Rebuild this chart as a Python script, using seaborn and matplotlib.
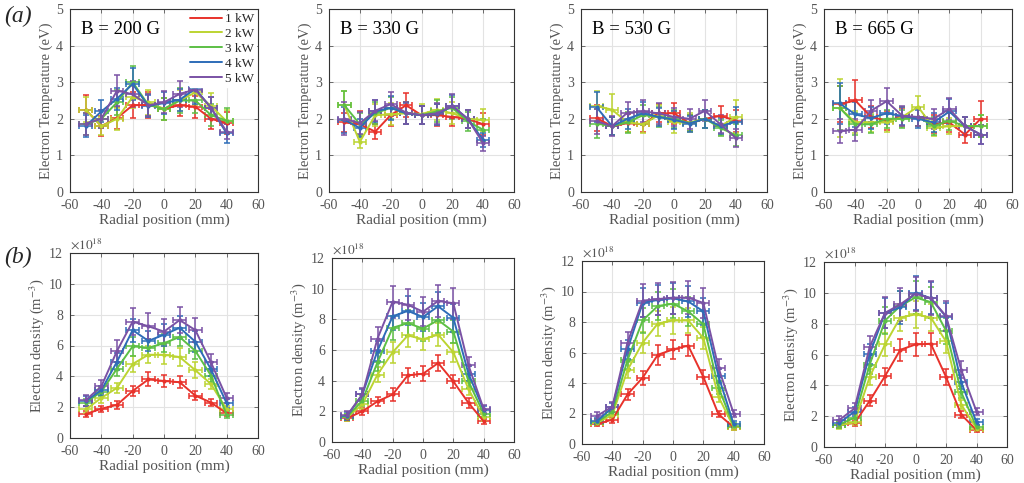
import numpy as np
import pandas as pd
import seaborn as sns
import matplotlib
matplotlib.use("Agg")
import matplotlib.pyplot as plt

# Messpositionen und Leistungen
radial_pos = [-50, -40, -30, -20, -10, 0, 10, 20, 30, 40]
powers = ["1 kW", "2 kW", "3 kW", "4 kW", "5 kW"]
farben = ["#e8322b", "#bcd431", "#5cbf45", "#2e6db8", "#7a52a5"]
b_felder = ["B = 200 G", "B = 330 G", "B = 530 G", "B = 665 G"]
x_err = 4  # mm

# Elektronentemperatur (eV), je Leistung eine Zeile
te_200 = [[2.25, 1.80, 2.02, 2.37, 2.38, 2.28, 2.37, 2.33, 2.00, 1.88],
          [2.25, 1.80, 2.00, 2.60, 2.45, 2.27, 2.50, 2.72, 2.35, 1.93],
          [1.85, 2.00, 2.45, 3.00, 2.38, 2.27, 2.50, 2.50, 2.10, 1.95],
          [1.80, 2.20, 2.55, 2.95, 2.35, 2.43, 2.52, 2.82, 2.30, 1.60],
          [1.87, 2.00, 2.77, 2.67, 2.37, 2.45, 2.68, 2.80, 2.30, 1.65]]
te_330 = [[1.90, 1.85, 1.65, 2.10, 2.37, 2.10, 2.10, 2.05, 2.00, 1.85],
          [2.37, 1.37, 2.10, 2.12, 2.15, 2.13, 2.25, 2.15, 2.00, 1.97],
          [2.37, 1.85, 2.15, 2.30, 2.15, 2.10, 2.20, 2.30, 1.93, 1.70],
          [1.97, 1.75, 2.20, 2.30, 2.15, 2.10, 2.12, 2.35, 2.00, 1.42],
          [2.00, 1.88, 2.22, 2.40, 2.17, 2.10, 2.15, 2.35, 2.00, 1.33]]
te_530 = [[2.02, 1.80, 1.88, 1.85, 2.15, 2.15, 1.88, 2.00, 2.08, 1.95],
          [2.35, 2.25, 1.90, 1.85, 2.10, 1.90, 1.90, 2.00, 1.80, 2.05],
          [1.87, 1.80, 1.90, 2.10, 2.05, 2.00, 1.88, 2.00, 1.75, 1.55],
          [2.32, 1.80, 2.00, 2.15, 2.05, 1.97, 1.87, 2.00, 1.80, 1.92],
          [1.93, 1.80, 2.17, 2.20, 2.15, 2.05, 2.00, 2.22, 1.85, 1.47]]
te_665 = [[2.40, 2.50, 2.05, 1.95, 2.05, 2.05, 1.85, 1.90, 1.57, 2.00],
          [2.30, 1.90, 1.90, 1.90, 2.05, 2.33, 1.75, 1.80, 1.80, 1.80],
          [2.30, 1.85, 1.85, 2.00, 2.00, 2.05, 1.80, 1.95, 1.80, 1.80],
          [2.42, 2.12, 2.02, 2.15, 2.08, 2.00, 1.90, 2.20, 1.80, 1.57],
          [1.67, 1.70, 2.22, 2.48, 2.08, 2.05, 2.00, 2.27, 1.80, 1.57]]

te_err_200 = [[0.40, 0.28, 0.30, 0.35, 0.35, 0.30, 0.30, 0.30, 0.28, 0.30],
              [0.35, 0.25, 0.30, 0.30, 0.35, 0.30, 0.30, 0.35, 0.35, 0.30],
              [0.30, 0.25, 0.35, 0.45, 0.30, 0.30, 0.35, 0.35, 0.30, 0.35],
              [0.30, 0.30, 0.30, 0.45, 0.30, 0.30, 0.30, 0.42, 0.30, 0.25],
              [0.30, 0.25, 0.42, 0.35, 0.30, 0.30, 0.35, 0.35, 0.30, 0.20]]
te_err_330 = [[0.25, 0.35, 0.20, 0.30, 0.33, 0.25, 0.30, 0.25, 0.25, 0.30],
              [0.40, 0.18, 0.30, 0.30, 0.30, 0.28, 0.28, 0.30, 0.25, 0.30],
              [0.40, 0.30, 0.30, 0.30, 0.30, 0.25, 0.30, 0.30, 0.25, 0.30],
              [0.35, 0.25, 0.30, 0.32, 0.28, 0.25, 0.28, 0.30, 0.25, 0.20],
              [0.45, 0.30, 0.28, 0.32, 0.30, 0.25, 0.28, 0.32, 0.25, 0.20]]
te_err_530 = [[0.35, 0.25, 0.25, 0.22, 0.25, 0.28, 0.22, 0.25, 0.28, 0.30],
              [0.40, 0.42, 0.25, 0.25, 0.28, 0.28, 0.25, 0.25, 0.25, 0.45],
              [0.40, 0.25, 0.28, 0.28, 0.28, 0.25, 0.22, 0.25, 0.22, 0.30],
              [0.42, 0.25, 0.28, 0.30, 0.25, 0.25, 0.22, 0.25, 0.22, 0.40],
              [0.35, 0.28, 0.28, 0.30, 0.28, 0.25, 0.28, 0.28, 0.25, 0.25]]
te_err_665 = [[0.50, 0.55, 0.30, 0.25, 0.25, 0.25, 0.25, 0.25, 0.22, 0.48],
              [0.80, 0.30, 0.25, 0.25, 0.28, 0.30, 0.22, 0.22, 0.25, 0.30],
              [0.60, 0.30, 0.25, 0.25, 0.25, 0.25, 0.25, 0.25, 0.25, 0.30],
              [0.55, 0.35, 0.30, 0.30, 0.25, 0.25, 0.25, 0.35, 0.25, 0.25],
              [0.32, 0.30, 0.30, 0.35, 0.28, 0.25, 0.28, 0.30, 0.25, 0.25]]

# Elektronendichte (10^18 m^-3)
ne_200 = [[1.55, 1.90, 2.15, 3.05, 3.80, 3.70, 3.62, 2.75, 2.30, 1.60],
          [1.85, 2.60, 3.25, 4.80, 5.40, 5.40, 5.25, 4.40, 3.50, 1.85],
          [2.30, 3.00, 4.50, 5.95, 5.85, 6.15, 6.55, 5.65, 4.05, 1.50],
          [2.40, 3.10, 4.95, 7.00, 6.30, 6.70, 7.15, 6.25, 4.45, 2.25],
          [2.45, 3.35, 5.65, 7.55, 7.25, 6.90, 7.65, 7.00, 4.90, 2.60]]
ne_330 = [[1.55, 2.00, 2.65, 3.10, 4.35, 4.45, 5.15, 3.95, 2.55, 1.35],
          [1.60, 2.45, 4.40, 5.85, 6.95, 6.70, 7.00, 5.85, 3.45, 1.60],
          [1.65, 2.70, 5.20, 7.45, 7.75, 7.40, 7.95, 7.20, 3.95, 1.85],
          [1.70, 3.10, 5.95, 8.20, 8.55, 8.15, 8.85, 8.10, 4.45, 2.10],
          [1.75, 3.10, 6.75, 9.15, 8.95, 8.50, 9.20, 9.05, 5.00, 2.15]]
ne_530 = [[1.30, 1.60, 3.25, 4.35, 5.85, 6.20, 6.45, 4.40, 1.95, 1.10],
          [1.40, 1.90, 4.85, 6.65, 7.90, 8.10, 8.10, 6.95, 3.10, 1.10],
          [1.45, 2.10, 5.50, 8.10, 9.05, 9.20, 8.70, 7.85, 3.70, 1.20],
          [1.50, 2.40, 6.20, 9.25, 9.45, 9.55, 9.35, 8.70, 4.45, 1.30],
          [1.85, 2.45, 6.65, 9.40, 9.50, 9.60, 9.60, 9.25, 5.00, 2.00]]
ne_665 = [[1.45, 1.55, 3.00, 4.60, 6.30, 6.65, 6.70, 4.55, 2.10, 1.10],
          [1.40, 1.60, 4.55, 6.65, 8.40, 8.60, 8.40, 6.85, 2.75, 1.20],
          [1.45, 1.90, 5.35, 8.20, 9.15, 9.70, 9.40, 7.55, 3.55, 1.30],
          [1.55, 2.30, 6.05, 8.70, 9.05, 10.00, 9.65, 8.45, 4.20, 1.60],
          [1.75, 2.50, 6.50, 8.70, 9.25, 9.95, 9.65, 8.50, 5.00, 2.30]]

ne_err_200 = [[0.20, 0.20, 0.25, 0.35, 0.45, 0.40, 0.40, 0.30, 0.25, 0.20],
              [0.25, 0.30, 0.35, 0.55, 0.55, 0.60, 0.60, 0.50, 0.35, 0.25],
              [0.25, 0.30, 0.45, 0.60, 0.55, 0.60, 0.60, 0.55, 0.40, 0.20],
              [0.30, 0.30, 0.55, 0.75, 0.65, 0.70, 0.75, 0.70, 0.45, 0.30],
              [0.35, 0.40, 0.70, 0.90, 0.85, 0.80, 0.85, 0.80, 0.55, 0.35]]
ne_err_330 = [[0.20, 0.25, 0.30, 0.40, 0.50, 0.50, 0.55, 0.45, 0.30, 0.15],
              [0.20, 0.30, 0.50, 0.70, 0.75, 0.70, 0.75, 0.60, 0.40, 0.20],
              [0.20, 0.35, 0.60, 0.80, 0.85, 0.80, 0.85, 0.75, 0.45, 0.25],
              [0.25, 0.35, 0.65, 0.90, 0.95, 0.90, 0.95, 0.90, 0.50, 0.25],
              [0.25, 0.40, 0.75, 1.05, 1.00, 0.95, 1.05, 1.00, 0.55, 0.25]]
ne_err_530 = [[0.15, 0.20, 0.35, 0.45, 0.65, 0.65, 0.70, 0.45, 0.20, 0.15],
              [0.15, 0.25, 0.50, 0.70, 0.85, 0.90, 0.85, 0.75, 0.35, 0.15],
              [0.20, 0.25, 0.60, 0.85, 0.95, 0.95, 0.95, 0.85, 0.40, 0.15],
              [0.20, 0.30, 0.65, 0.95, 1.00, 1.00, 1.00, 0.90, 0.45, 0.20],
              [0.25, 0.30, 0.70, 1.10, 1.05, 1.05, 1.10, 1.00, 0.55, 0.25]]
ne_err_665 = [[0.20, 0.20, 0.35, 0.55, 0.70, 0.75, 0.70, 0.50, 0.25, 0.15],
              [0.20, 0.20, 0.50, 0.75, 0.90, 0.90, 0.90, 0.75, 0.30, 0.15],
              [0.20, 0.25, 0.60, 0.90, 1.00, 1.05, 1.00, 0.85, 0.40, 0.15],
              [0.20, 0.30, 0.65, 0.95, 1.05, 1.10, 1.05, 0.90, 0.45, 0.20],
              [0.25, 0.35, 0.70, 1.00, 1.05, 1.10, 1.10, 0.95, 0.55, 0.25]]

te_sets = [(te_200, te_err_200), (te_330, te_err_330), (te_530, te_err_530), (te_665, te_err_665)]
ne_sets = [(ne_200, ne_err_200), (ne_330, ne_err_330), (ne_530, ne_err_530), (ne_665, ne_err_665)]

sns.set_theme(style="whitegrid")
plt.rcParams["font.family"] = ["Liberation Serif", "DejaVu Serif"]
plt.rcParams["mathtext.fontset"] = "stix"
plt.rcParams["axes.unicode_minus"] = False

grau = "#555555"
fig = plt.figure(figsize=(10.24, 4.83), dpi=100)

# Achsenpositionen (Pixel: links, oben, rechts, unten)
top_boxes = [(70, 9, 258, 192), (329, 9, 514, 192), (581, 9, 767, 192), (824, 9, 1012, 192)]
bot_boxes = [(70, 253, 258, 438), (332, 258, 514, 442), (582, 261, 764, 444), (824, 262, 1007, 447)]


def to_rect(box):
    l, t, r, b = box
    return [l / 1024, 1 - b / 483, (r - l) / 1024, (b - t) / 483]


def draw_panel(ax, werte, fehler, ylim, yticks, show_legend=False):
    rows = []
    for p, serie in zip(powers, werte):
        for x, v in zip(radial_pos, serie):
            rows.append({"x": x, "val": v, "power": p})
    df = pd.DataFrame(rows)
    sns.lineplot(data=df, x="x", y="val", hue="power", palette=farben,
                 marker="o", markersize=3, markeredgewidth=0, linewidth=1.4,
                 legend=show_legend, ax=ax, zorder=3)
    for farbe, serie, err in zip(farben, werte, fehler):
        ax.errorbar(radial_pos, serie, xerr=x_err, yerr=err, fmt="none",
                    ecolor=farbe, elinewidth=1.1, capsize=2, capthick=1.1, zorder=2)
    ax.set_xlim(-60, 60)
    ax.set_xticks([-60, -40, -20, 0, 20, 40, 60])
    ax.set_ylim(*ylim)
    ax.set_yticks(yticks)
    ax.grid(True, color="#e3e3e3", linewidth=0.8)
    ax.set_facecolor("white")
    for s in ax.spines.values():
        s.set_color("#333333")
        s.set_linewidth(0.8)
    ax.tick_params(direction="in", length=3, width=0.6, colors=grau, labelsize=10, pad=5,
                   top=True, right=True, bottom=True, left=True)
    ax.set_xlabel("Radial position (mm)", fontsize=11, color=grau, labelpad=1)
    if show_legend:
        leg = ax.legend(loc="upper right", fontsize=9.5, frameon=True, framealpha=1,
                        edgecolor="white", handlelength=2.4, handletextpad=0.2,
                        labelspacing=0.2, borderpad=0.15, borderaxespad=0.15)
        for line in leg.get_lines():
            line.set_marker("")
            line.set_linewidth(1.4)


for i in range(4):
    ax = fig.add_axes(to_rect(top_boxes[i]))
    draw_panel(ax, te_sets[i][0], te_sets[i][1], (0, 5), [0, 1, 2, 3, 4, 5], show_legend=(i == 0))
    ax.set_ylabel("Electron Temperature (eV)", fontsize=10.5, color=grau, labelpad=2)
    ax.text(0.06, 0.935, b_felder[i], transform=ax.transAxes, fontsize=13.5,
            color="black", va="top", ha="left")

for i in range(4):
    ax = fig.add_axes(to_rect(bot_boxes[i]))
    draw_panel(ax, ne_sets[i][0], ne_sets[i][1], (0, 12), [0, 2, 4, 6, 8, 10, 12])
    ax.set_ylabel("Electron density (m$^{-3}$)", fontsize=10.5, color=grau, labelpad=2)
    ax.text(0.0, 1.005, r"$\times10^{18}$", transform=ax.transAxes, fontsize=9.5,
            color=grau, va="bottom", ha="left")

fig.text(0.004, 0.965, "(a)", fontsize=17, style="italic", va="center", ha="left")
fig.text(0.004, 0.468, "(b)", fontsize=17, style="italic", va="center", ha="left")

fig.savefig("out.png", dpi=100)
